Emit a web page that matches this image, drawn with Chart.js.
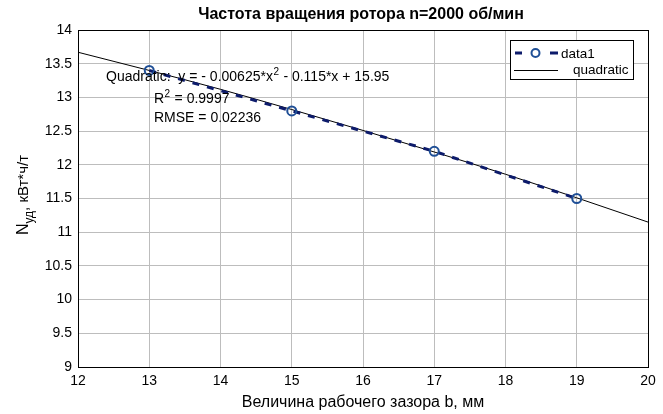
<!DOCTYPE html>
<html>
<head>
<meta charset="utf-8">
<script src="https://cdn.jsdelivr.net/npm/chart.js@4/dist/chart.umd.min.js"></script>
<style>
  html, body { margin: 0; padding: 0; background: #fff; }
  #wrap { width: 663px; height: 414px; position: relative; }
</style>
</head>
<body>
<div id="wrap"><canvas id="c" width="663" height="414"></canvas></div>
<script>
// Measured gap widths b (mm) and specific power (kW*h/t)
const gapWidths = [13, 15, 17, 19];
const specificPower = [13.4, 12.8, 12.2, 11.5];

// Quadratic fit curve, sampled across the axis range
const fitX = [12, 13, 14, 15, 16, 17, 18, 19, 20];
const fitY = [13.67, 13.40, 13.12, 12.82, 12.51, 12.19, 11.86, 11.51, 11.15];

// Axis ticks
const xTicks = [12, 13, 14, 15, 16, 17, 18, 19, 20];
const yTicks = [9, 9.5, 10, 10.5, 11, 11.5, 12, 12.5, 13, 13.5, 14];

const titleText = 'Частота вращения ротора n=2000 об/мин';
const xLabel = 'Величина рабочего зазора b, мм';
const fitLabel = ['Quadratic:  y = - 0.00625*x', '2', ' - 0.115*x + 15.95'];
const r2Label = ['R', '2', ' = 0.9997'];
const rmseLabel = 'RMSE = 0.02236';
const legendNames = ['data1', 'quadratic'];

const FONT = '"Liberation Sans", Arial, sans-serif';
const NAVY = '#0d1b6b';
const MARK = '#1f4f96';

// Text with a superscript piece
function drawSup(ctx, parts, x, y, size) {
  ctx.font = size + 'px ' + FONT;
  ctx.fillText(parts[0], x, y);
  const w = ctx.measureText(parts[0]).width;
  ctx.font = Math.round(size * 0.72) + 'px ' + FONT;
  ctx.fillText(parts[1], x + w + 0.5, y - size * 0.42);
  const w2 = ctx.measureText(parts[1]).width;
  ctx.font = size + 'px ' + FONT;
  ctx.fillText(parts[2], x + w + w2 + 1, y);
}

const decorations = {
  id: 'decorations',
  afterDraw(chart) {
    const ctx = chart.ctx;
    const a = chart.chartArea;
    ctx.save();
    // axes box
    ctx.strokeStyle = '#000';
    ctx.lineWidth = 1;
    ctx.strokeRect(Math.round(a.left) + 0.5, Math.round(a.top) + 0.5,
                   Math.round(a.right - a.left), Math.round(a.bottom - a.top));

    ctx.fillStyle = '#000';
    ctx.textBaseline = 'alphabetic';
    ctx.textAlign = 'center';
    ctx.font = 'bold 16px ' + FONT;
    ctx.fillText(titleText, 361, 19);

    ctx.font = '16px ' + FONT;
    ctx.fillText(xLabel, (a.left + a.right) / 2, 407);

    // y axis label with subscript
    ctx.save();
    ctx.translate(28, 195);
    ctx.rotate(-Math.PI / 2);
    ctx.textAlign = 'left';
    const p1 = 'N', p2 = 'уд', p3 = ', кВт*ч/т';
    ctx.font = '16px ' + FONT;
    const w1 = ctx.measureText(p1).width;
    ctx.font = '12px ' + FONT;
    const w2 = ctx.measureText(p2).width;
    ctx.font = '15px ' + FONT;
    const w3 = ctx.measureText(p3).width;
    const sx = -(w1 + w2 + w3) / 2;
    ctx.font = '16px ' + FONT;
    ctx.fillText(p1, sx, 0);
    ctx.font = '12px ' + FONT;
    ctx.fillText(p2, sx + w1, 5);
    ctx.font = '15px ' + FONT;
    ctx.fillText(p3, sx + w1 + w2, 0);
    ctx.restore();

    // fit annotation
    ctx.textAlign = 'left';
    drawSup(ctx, fitLabel, 106, 81, 14);
    drawSup(ctx, r2Label, 154, 103, 14);
    ctx.font = '14px ' + FONT;
    ctx.fillText(rmseLabel, 154, 122);

    // legend
    const lx = 510, ly = 40, lw = 123, lh = 39;
    ctx.fillStyle = '#fff';
    ctx.fillRect(lx, ly, lw, lh);
    ctx.strokeStyle = '#000';
    ctx.lineWidth = 1;
    ctx.strokeRect(lx + 0.5, ly + 0.5, lw, lh);
    ctx.strokeStyle = NAVY;
    ctx.lineWidth = 3;
    ctx.beginPath();
    ctx.moveTo(515, 53); ctx.lineTo(522, 53);
    ctx.moveTo(550, 53); ctx.lineTo(558, 53);
    ctx.stroke();
    ctx.strokeStyle = MARK;
    ctx.lineWidth = 2;
    ctx.beginPath();
    ctx.arc(535.5, 53, 4, 0, Math.PI * 2);
    ctx.stroke();
    ctx.strokeStyle = '#000';
    ctx.lineWidth = 1;
    ctx.beginPath();
    ctx.moveTo(514, 70.5); ctx.lineTo(558, 70.5);
    ctx.stroke();
    ctx.fillStyle = '#000';
    ctx.font = '13.5px ' + FONT;
    ctx.textBaseline = 'middle';
    ctx.fillText(legendNames[0], 561, 54);
    ctx.fillText(legendNames[1], 573, 70);
    ctx.restore();
  }
};

new Chart(document.getElementById('c'), {
  type: 'scatter',
  data: {
    datasets: [
      {
        label: legendNames[1],
        data: fitX.map((x, i) => ({ x, y: fitY[i] })),
        showLine: true,
        borderColor: '#000',
        borderWidth: 1,
        pointRadius: 0,
        cubicInterpolationMode: 'monotone',
        order: 2
      },
      {
        label: legendNames[0],
        data: gapWidths.map((x, i) => ({ x, y: specificPower[i] })),
        showLine: true,
        borderColor: NAVY,
        borderWidth: 3,
        borderDash: [7, 8],
        pointRadius: 4.5,
        pointBorderWidth: 2,
        pointBorderColor: MARK,
        pointBackgroundColor: 'rgba(255,255,255,0)',
        order: 1
      }
    ]
  },
  options: {
    responsive: false,
    animation: false,
    layout: { padding: { top: 30, right: 15, left: 0, bottom: 0 } },
    plugins: { legend: { display: false }, title: { display: false }, tooltip: { enabled: false } },
    scales: {
      x: {
        type: 'linear', min: 12, max: 20,
        afterBuildTicks: s => { s.ticks = xTicks.map(v => ({ value: v })); },
        afterFit: s => { s.height = 47; },
        grid: { color: '#bdbdbd', lineWidth: 1, drawTicks: false },
        border: { display: false },
        ticks: { color: '#000', font: { family: FONT, size: 14 }, padding: 6, maxRotation: 0,
                 callback: v => String(v) }
      },
      y: {
        type: 'linear', min: 9, max: 14,
        afterBuildTicks: s => { s.ticks = yTicks.map(v => ({ value: v })); },
        afterFit: s => { s.width = 78; },
        grid: { color: '#bdbdbd', lineWidth: 1, drawTicks: false },
        border: { display: false },
        ticks: { color: '#000', font: { family: FONT, size: 14 }, padding: 6,
                 callback: v => String(v) }
      }
    }
  },
  plugins: [decorations]
});
</script>
</body>
</html>
